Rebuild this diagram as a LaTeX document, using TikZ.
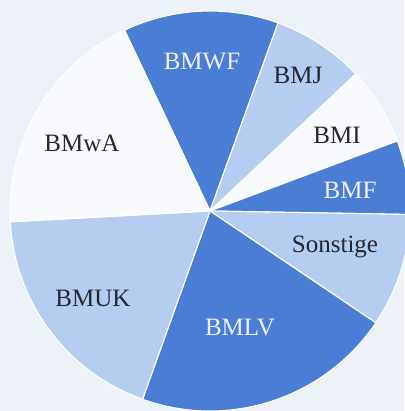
\documentclass[tikz,border=0pt]{standalone}
\usepackage{fontspec}
\setmainfont{Liberation Serif}
\definecolor{bgc}{RGB}{237,242,249}
\definecolor{wc}{RGB}{248,250,253}
\definecolor{lc}{RGB}{181,205,240}
\definecolor{dc}{RGB}{74,126,213}
\definecolor{tc}{RGB}{38,38,48}
\tikzset{
  wedge/.style={draw=white, line width=1.1pt, line join=round},
  lab/.style={font=\fontsize{25}{25}\selectfont, text=tc, inner sep=0pt},
  labw/.style={lab, text=white!94!blue}
}
\begin{document}
\begin{tikzpicture}[x=1pt,y=1pt]
\fill[bgc] (0,0) rectangle (404,411);
\useasboundingbox (0,0) rectangle (404,411);
\coordinate (c) at (210,200);
\foreach \a/\b/\col in {70.1/115.3/dc, 43.2/70.1/lc, 20.5/43.2/wc, -1/20.5/dc, -34/-1/lc, -109.7/-34/dc, -176.9/-109.7/lc, 115.3/183.1/wc}{
  \filldraw[wedge, fill=\col] (c) -- ++(\a:200) arc[start angle=\a, end angle=\b, radius=200] -- cycle;
}
\node[labw] (bmwf) at (202,349) {BMWF};
\node[lab] (bmj) at (298,336) {BMJ};
\node[lab] (bmi) at (337,276) {BMI};
\node[labw] (bmf) at (350,221) {BMF};
\node[lab] (sonst) at (335,164) {Sonstige};
\node[labw] (bmlv) at (240,83) {BMLV};
\node[lab] (bmuk) at (93,113) {BMUK};
\node[lab] (bmwa) at (82,268) {BMwA};
\end{tikzpicture}
\end{document}
